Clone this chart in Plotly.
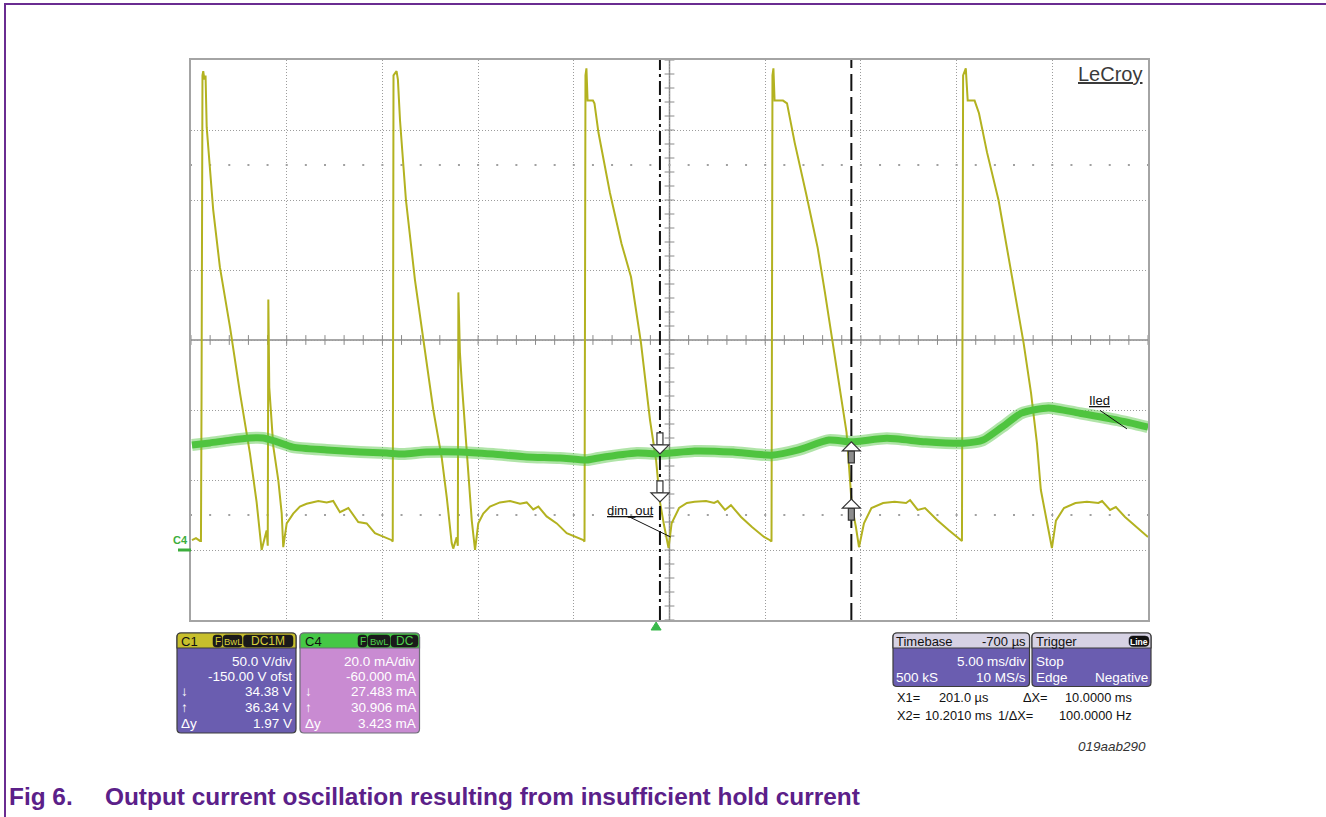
import numpy as np
import plotly.graph_objects as go

# ---------------- acquisition settings ----------------
TIME_PER_DIV = 5.0          # ms/div
H_DIVS = 10
TIMEBASE_DELAY = -0.7       # ms
C1_VDIV, C1_OFST = 50.0, -150.0    # V/div, V offset
C4_IDIV, C4_OFST = 20.0, -60.0     # mA/div, mA offset
V_DIVS = 8

TRIGGER_T = 0.0
X1_T = 0.201                # ms
X2_T = 10.201               # ms
C1_AT_X1, C1_AT_X2, C1_DY = 34.38, 36.34, 1.97        # V
C4_AT_X1, C4_AT_X2, C4_DY = 27.483, 30.906, 3.423     # mA

# ---------------- C1: dim_out (V) ----------------
c1_t = [-24.25, -24.04, -23.83,
        -23.78, -23.75, -23.70, -23.66, -23.60, -23.54, -23.48, -23.14, -22.79, -22.26,
        -21.74, -21.22, -20.87, -20.61, -20.49, -20.35, -20.29, -20.26, -20.21, -20.00,
        -19.74, -19.56, -19.48, -19.30, -18.96, -18.61, -18.26, -17.65, -17.21, -16.87,
        -16.52, -16.08, -15.56, -15.12, -14.69, -13.81,
        -13.76, -13.72, -13.56, -13.49, -13.38, -13.07, -12.60, -12.16, -11.64, -11.20,
        -10.94, -10.68, -10.60, -10.42, -10.36, -10.33, -10.25, -10.16, -9.98, -9.81,
        -9.63, -9.46, -9.29, -9.03, -8.68, -8.16, -7.63, -7.11, -6.76, -6.42,
        -6.15, -5.72, -5.19, -4.67, -3.80,
        -3.74, -3.69, -3.64, -3.58, -3.30, -3.22, -3.01, -2.41, -1.81, -1.31,
        -0.79, -0.32, 0.00, 0.201, 0.41, 0.61, 0.65, 0.81, 1.20, 1.61,
        2.01, 2.61, 3.03, 3.22, 3.60, 3.91, 4.44, 5.01, 5.64, 5.95,
        6.03, 6.08, 6.13, 6.19, 6.63, 6.84, 7.24, 7.83, 8.44, 8.82,
        9.24, 9.65, 9.95, 10.13, 10.201, 10.29, 10.44, 10.60, 10.86, 11.25,
        11.86, 12.46, 13.06, 13.27, 13.67, 14.05, 14.68, 15.28, 15.88, 15.98,
        16.04, 16.18, 16.28, 16.64, 16.87, 17.29, 17.89, 18.39, 18.79, 19.20,
        19.59, 19.90, 20.10, 20.30, 20.60, 20.68, 20.89, 21.31, 21.91, 22.51,
        23.11, 23.30, 23.72, 24.02, 24.50, 25.13, 25.70]
c1_v = [7, 8.5, 6.5,
        6.5, 107, 339, 342, 336, 339, 302, 243, 202, 159,
        112, 69, 34, 0, 7, 14, 3, 179, 116, 74,
        50, 26, 2, 19, 26, 31, 33, 35, 34, 35,
        27, 30, 20, 19, 12, 7,
        6, 339, 342, 336, 307, 250, 193, 150, 100, 66,
        38, 5, 1, 9, 3, 184, 141, 121, 86, 50,
        21, 0, 19, 26, 31, 34, 35, 33, 34, 29,
        31, 24, 19, 12, 7,
        6, 339, 344, 321, 321, 319, 298, 255, 219, 195,
        148, 93, 64, 34.38, 18, 6, 1.4, 19, 30, 33.6,
        34.5, 35, 33.6, 35, 28.6, 32, 23.6, 16.4, 9.3, 7,
        6, 339, 344, 321, 321, 319, 291, 255, 216, 184,
        148, 112, 84, 50, 36.34, 27, 16.4, 2, 19, 30,
        33.6, 34.5, 33.6, 35.7, 28.6, 30, 21.4, 14.3, 7, 6.4,
        339, 344, 321, 321, 312, 284, 250, 212, 179, 148,
        112, 76, 43, 29, 7, 1.4, 21, 30, 33.6, 34.5,
        33.6, 35, 28.6, 30.7, 23.6, 16.4, 9.3]

# ---------------- C4: Iled (mA) ----------------
c4_t = [-24.25, -23.31, -22.26, -21.22, -20.54, -19.91, -18.97, -17.21, -15.47, -14.08,
        -13.22, -11.99, -10.25, -8.51, -6.76, -5.02, -3.63, -3.01, -1.00, 0.201,
        2.01, 4.02, 6.03, 7.44, 9.03, 10.201, 12.06, 14.07, 16.08, 17.08,
        18.07, 19.09, 20.50, 22.10, 24.12, 25.70]
c4_i = [30.0, 30.6, 31.4, 32.0, 32.0, 31.1, 29.4, 28.6, 28.0, 27.7,
        27.4, 28.0, 28.0, 27.4, 26.6, 26.3, 25.7, 26.3, 27.7, 27.483,
        28.3, 28.0, 27.1, 28.6, 31.4, 30.906, 31.9, 30.9, 30.5, 31.4,
        35.1, 39.1, 40.6, 39.1, 37.1, 35.1]

# ---------------- page geometry ----------------
W, H = 1326, 817
PL, PR, PT, PB = 191, 1148, 60, 620
FONT = "Liberation Sans, Arial, sans-serif"

YELLOW = "#b3b220"
GREEN = "#4fc43f"
PURPLE_BODY = "#6a5db0"
PINK_BODY = "#c98bd2"
CAPTION = "#5b2089"
GRID = "#9c9c9c"


def px(x):
    return (x - PL) / (PR - PL)


def py(y):
    return (PB - y) / (PB - PT)


def rpath(x0, y0, x1, y1, rtl=4, rtr=4, rbr=4, rbl=4):
    """Rounded rectangle (pixel coordinates) as an SVG path in paper units."""
    def p(x, y):
        return f"{px(x):.5f},{py(y):.5f}"
    return (f"M{p(x0 + rtl, y0)} L{p(x1 - rtr, y0)} Q{p(x1, y0)} {p(x1, y0 + rtr)} "
            f"L{p(x1, y1 - rbr)} Q{p(x1, y1)} {p(x1 - rbr, y1)} "
            f"L{p(x0 + rbl, y1)} Q{p(x0, y1)} {p(x0, y1 - rbl)} "
            f"L{p(x0, y0 + rtl)} Q{p(x0, y0)} {p(x0 + rtl, y0)} Z")


shapes = []
annotations = []


def box(x0, y0, x1, y1, fill, line="#3c3c3c", lw=1.2, **radii):
    shapes.append(dict(type="path", xref="paper", yref="paper",
                       path=rpath(x0, y0, x1, y1, **radii),
                       fillcolor=fill, line=dict(color=line, width=lw), layer="above"))


def txt(x, y, s, anchor="left", size=13.5, color="white", weight="normal", style="normal"):
    annotations.append(dict(xref="paper", yref="paper", x=px(x), y=py(y), text=s,
                            xanchor=anchor, yanchor="middle", showarrow=False,
                            borderpad=0,
                            font=dict(family=FONT, size=size, color=color,
                                      weight=weight, style=style)))


t_mid = -TIMEBASE_DELAY
x_range = [t_mid - TIME_PER_DIV * H_DIVS / 2, t_mid + TIME_PER_DIV * H_DIVS / 2]
c1_range = [-C1_OFST - C1_VDIV * V_DIVS / 2, -C1_OFST + C1_VDIV * V_DIVS / 2]
c4_range = [-C4_OFST - C4_IDIV * V_DIVS / 2, -C4_OFST + C4_IDIV * V_DIVS / 2]
c1_mid = -C1_OFST

fig = go.Figure()

# graticule ticks on the centre cross and the two dotted rows
sub_t = np.arange(x_range[0], x_range[1] + 1e-9, TIME_PER_DIV / 5)
sub_v = np.arange(c1_range[0], c1_range[1] + 1e-9, C1_VDIV / 5)
fig.add_trace(go.Scatter(x=sub_t, y=[c1_mid] * len(sub_t), mode="markers",
                         marker=dict(symbol="line-ns-open", size=7, color="#8a8a8a",
                                     line=dict(color="#8a8a8a", width=1)),
                         hoverinfo="skip"))
fig.add_trace(go.Scatter(x=[t_mid] * len(sub_v), y=sub_v, mode="markers",
                         marker=dict(symbol="line-ew-open", size=7, color="#8a8a8a",
                                     line=dict(color="#8a8a8a", width=1)),
                         hoverinfo="skip"))
for row in (c1_mid + 2.5 * C1_VDIV, c1_mid - 2.5 * C1_VDIV):
    fig.add_trace(go.Scatter(x=sub_t, y=[row] * len(sub_t), mode="markers",
                             marker=dict(symbol="square", size=2, color="#a0a0a0"),
                             hoverinfo="skip"))

# channel traces: C4 drawn as a wide noisy band, C1 on top
fig.add_trace(go.Scatter(x=c4_t, y=c4_i, yaxis="y2", mode="lines",
                         line=dict(color="rgba(79,196,63,0.45)", width=12,
                                   shape="spline", smoothing=0.6),
                         hoverinfo="skip"))
fig.add_trace(go.Scatter(x=c4_t, y=c4_i, yaxis="y2", mode="lines",
                         line=dict(color=GREEN, width=7, shape="spline", smoothing=0.6),
                         hoverinfo="skip"))
fig.add_trace(go.Scatter(x=c1_t, y=c1_v, mode="lines",
                         line=dict(color=YELLOW, width=2), hoverinfo="skip"))

# centre cross of the graticule
shapes.append(dict(type="line", xref="x", yref="paper", x0=t_mid, x1=t_mid, y0=0, y1=1,
                   line=dict(color="#8a8a8a", width=1.5), layer="below"))
shapes.append(dict(type="line", xref="paper", yref="y", x0=0, x1=1, y0=c1_mid, y1=c1_mid,
                   line=dict(color="#8a8a8a", width=1.5), layer="below"))

# trigger position marker below the grid
shapes.append(dict(type="path", xref="x", yref="paper", xsizemode="pixel",
                   ysizemode="pixel", xanchor=TRIGGER_T, yanchor=0,
                   path="M-5,-10 L5,-10 L0,-2 Z", fillcolor="#38b84a",
                   line=dict(color="#38b84a", width=1), layer="above"))

# cursors
shapes.append(dict(type="line", xref="x", yref="paper", x0=X1_T, x1=X1_T, y0=0, y1=1,
                   line=dict(color="#111111", width=2, dash="14px,4px,3px,4px"), layer="above"))
shapes.append(dict(type="line", xref="x", yref="paper", x0=X2_T, x1=X2_T, y0=0, y1=1,
                   line=dict(color="#111111", width=2, dash="17px,6px"), layer="above"))


def cursor_arrow(t, val, yref, up):
    s = -1 if up else 1
    head = f"M0,0 L-9,{9*s} L9,{9*s} Z"
    shaft = f"M-3,{9*s} L-3,{21*s} L3,{21*s} L3,{9*s} Z"
    for path, fill in ((shaft, "#8c8c8c" if up else "white"), (head, "white")):
        shapes.append(dict(type="path", xref="x", yref=yref, xsizemode="pixel",
                           ysizemode="pixel", xanchor=t, yanchor=val, path=path,
                           fillcolor=fill, line=dict(color="#333333", width=1.2),
                           layer="above"))


cursor_arrow(X1_T, C4_AT_X1, "y2", up=False)
cursor_arrow(X1_T, C1_AT_X1, "y", up=False)
cursor_arrow(X2_T, C4_AT_X2, "y2", up=True)
cursor_arrow(X2_T, C1_AT_X2, "y", up=True)

# trace labels with leader lines
annotations.append(dict(xref="x", yref="y", x=-1.36, y=28.2, text="<u>dim_out</u>",
                        showarrow=False, font=dict(family=FONT, size=13, color="#111")))
shapes.append(dict(type="line", xref="x", yref="y", x0=-1.36, y0=23.4, x1=0.76, y1=9.3,
                   line=dict(color="#111", width=1), layer="above"))
annotations.append(dict(xref="x", yref="y2", x=23.19, y=42.6, text="<u>Iled</u>",
                        showarrow=False, font=dict(family=FONT, size=13, color="#111")))
shapes.append(dict(type="line", xref="x", yref="y2", x0=23.19, y0=39.9, x1=24.60, y1=34.6,
                   line=dict(color="#111", width=1), layer="above"))

# C4 ground reference marker
shapes.append(dict(type="line", xref="paper", yref="y2", x0=px(178), x1=px(191), y0=0, y1=0,
                   line=dict(color="#3cae3c", width=3), layer="above"))
annotations.append(dict(xref="paper", yref="y2", x=px(190), y=0, yshift=10, text="C4",
                        xanchor="right", showarrow=False,
                        font=dict(family=FONT, size=11, color="#3cae3c", weight="bold")))

# LeCroy logo
txt(1143, 74, "<u>LeCroy</u>", anchor="right", size=20, color="#3a3a3a")

# ---------------- channel descriptor boxes ----------------
rows_y = [661.7, 676.7, 691.7, 707.3, 723.3]

# C1
box(177, 633, 296, 733, PURPLE_BODY)
box(177, 633, 296, 648, "#c7bf2c", rbr=0, rbl=0)
txt(180, 641, "C1", color="#111", size=13)
for (bx0, bx1, lab, fs) in [(213, 222, "F", 10), (223, 242, "BwL", 9.5), (243.5, 293, "DC1M", 12)]:
    box(bx0, 635, bx1, 647, "#1a1a1a", line="#1a1a1a", lw=0.5, rtl=3, rtr=3, rbr=3, rbl=3)
    txt((bx0 + bx1) / 2, 641, lab, anchor="center", size=fs, color="#d8cf3a")
c1_rows = [f"{C1_VDIV:.1f} V/div", f"{C1_OFST:.2f} V ofst", f"{C1_AT_X1:.2f} V",
           f"{C1_AT_X2:.2f} V", f"{C1_DY:.2f} V"]
for y, s in zip(rows_y, c1_rows):
    txt(293, y, s, anchor="right")
for y, s in zip(rows_y[2:], ["↓", "↑", "Δy"]):
    txt(180, y, s)

# C4
box(300, 633, 419.5, 733, PINK_BODY, line="#6e6e78")
box(300, 633, 419.5, 648, "#45c845", line="#6e6e78", rbr=0, rbl=0)
txt(304, 641, "C4", color="#111", size=13)
for (bx0, bx1, lab, fs) in [(358, 367, "F", 10), (368, 390, "BwL", 9.5), (391, 418, "DC", 12)]:
    box(bx0, 635, bx1, 647, "#1a1a1a", line="#1a1a1a", lw=0.5, rtl=3, rtr=3, rbr=3, rbl=3)
    txt((bx0 + bx1) / 2, 641, lab, anchor="center", size=fs, color="#4ed24e")
c4_rows = [f"{C4_IDIV:.1f} mA/div", f"{C4_OFST:.3f} mA", f"{C4_AT_X1:.3f} mA",
           f"{C4_AT_X2:.3f} mA", f"{C4_DY:.3f} mA"]
for y, s in zip(rows_y, c4_rows):
    txt(417, y, s, anchor="right")
for y, s in zip(rows_y[2:], ["↓", "↑", "Δy"]):
    txt(304, y, s)

# Timebase
box(893, 633, 1029.5, 686.5, PURPLE_BODY)
box(893, 633, 1029.5, 648, "#d6d2e4", rbr=0, rbl=0)
txt(895, 641, "Timebase", color="#111", size=13)
txt(1027, 641, f"{TIMEBASE_DELAY * 1000:.0f} µs", anchor="right", color="#111", size=13)
txt(1027, 661, f"{TIME_PER_DIV:.2f} ms/div", anchor="right")
txt(895, 677, "500 kS")
txt(1027, 677, "10 MS/s", anchor="right")

# Trigger
box(1032, 633, 1151, 686.5, PURPLE_BODY)
box(1032, 633, 1151, 648, "#d6d2e4", rbr=0, rbl=0)
txt(1035, 641, "Trigger", color="#111", size=13)
box(1129, 636, 1149, 646.5, "#111111", line="#111111", lw=0.5, rtl=4, rtr=4, rbr=4, rbl=4)
txt(1139, 641.5, "Line", anchor="center", size=8.5, color="white", weight="bold")
txt(1035, 661, "Stop")
txt(1035, 677, "Edge")
txt(1149, 677, "Negative", anchor="right")

# cursor readout
dx = X2_T - X1_T
RO = 12.8
txt(896, 697, "X1=", color="#111", size=RO)
txt(989, 697, f"{X1_T * 1000:.1f} µs", anchor="right", color="#111", size=RO)
txt(1022, 697, "ΔX=", color="#111", size=RO)
txt(1133, 697, f"{dx:.4f} ms", anchor="right", color="#111", size=RO)
txt(896, 715, "X2=", color="#111", size=RO)
txt(993, 715, f"{X2_T:.4f} ms", anchor="right", color="#111", size=RO)
txt(997, 715, "1/ΔX=", color="#111", size=RO)
txt(1133, 715, f"{1000 / dx:.4f} Hz", anchor="right", color="#111", size=RO)

txt(1147, 746, "019aab290", anchor="right", color="#333", style="italic")

# ---------------- figure caption and frame ----------------
txt(8, 796, "Fig 6.", color=CAPTION, size=24.4, weight="bold")
txt(104, 796, "Output current oscillation resulting from insufficient hold current",
    color=CAPTION, size=24.4, weight="bold")
shapes.append(dict(type="line", xref="paper", yref="paper", x0=px(5), x1=px(W + 5),
                   y0=py(4), y1=py(4), line=dict(color="#6a2c91", width=2), layer="above"))
shapes.append(dict(type="line", xref="paper", yref="paper", x0=px(5), x1=px(5),
                   y0=py(3), y1=py(H + 5), line=dict(color="#6a2c91", width=2), layer="above"))

axis_style = dict(showticklabels=False, ticks="", zeroline=False, showgrid=True,
                  gridcolor=GRID, griddash="1px,2px", gridwidth=1,
                  showline=True, mirror=True, linecolor="#a4a4a4", linewidth=1.5)

fig.update_layout(
    width=W, height=H, autosize=False,
    margin=dict(l=PL, r=W - PR, t=PT, b=H - PB, pad=0),
    paper_bgcolor="white", plot_bgcolor="white", showlegend=False,
    xaxis=dict(range=x_range, tick0=t_mid, dtick=TIME_PER_DIV, **axis_style),
    yaxis=dict(range=c1_range, tick0=c1_mid, dtick=C1_VDIV, **axis_style),
    yaxis2=dict(range=c4_range, overlaying="y", visible=False),
    shapes=shapes, annotations=annotations,
)

fig.write_html("out.html")
